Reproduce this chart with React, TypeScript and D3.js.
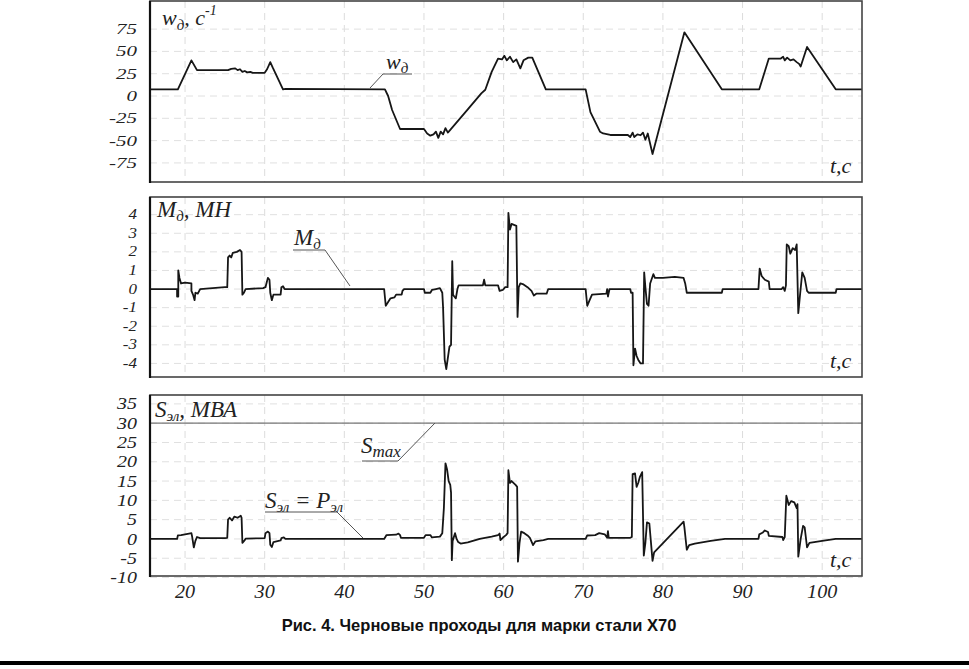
import React from 'react'
import * as d3 from 'd3'

// time axis
const xTicks = [20, 30, 40, 50, 60, 70, 80, 90, 100]
const tDomain: [number, number] = [15.6, 105]

// y ticks per panel
const wTicks = [75, 50, 25, 0, -25, -50, -75]
const mTicks = [4, 3, 2, 1, 0, -1, -2, -3, -4]
const sTicks = [35, 30, 25, 20, 15, 10, 5, 0, -5, -10]

// w_д, 1/s  (t, value)
const wSeries: [number, number][] = [
  [15.6, 7.5], [19.1, 7.5], [20.8, 40], [21.5, 29], [25.4, 29], [25.8, 30.5], [26.3, 31], [26.6, 29], [26.9, 30],
  [27.2, 27], [27.5, 28], [27.8, 26.5], [28.2, 27], [28.5, 26], [30.0, 26], [30.3, 30], [30.7, 38], [31.0, 32],
  [32.3, 7.5], [32.6, 8], [45.1, 7.5], [45.5, 0], [46.0, -15.7], [47.0, -37], [50.0, -37], [50.4, -42], [50.8, -44.5],
  [51.2, -43], [51.5, -40], [51.8, -47], [52.1, -40], [52.4, -43], [52.7, -36], [53.0, -41], [53.3, -38], [55.5, -15],
  [57.2, 3], [57.7, 7], [58.5, 27], [59.3, 42], [59.8, 41], [60.1, 45], [60.4, 40], [60.8, 44], [61.2, 38], [61.6, 41],
  [62.1, 31], [62.5, 40], [63.1, 43], [63.6, 43], [65.3, 7.5], [70.3, 7.5], [70.9, -18], [72.1, -40], [72.5, -42],
  [73.4, -43.7], [75.6, -43.7], [75.9, -46], [76.2, -41], [76.4, -46], [76.8, -43], [77.2, -44], [77.5, -41],
  [77.8, -49], [78.1, -42], [78.7, -65], [82.7, 71.4], [87.4, 7.5], [92.1, 7.5], [93.3, 42], [94.8, 42], [95.1, 44],
  [95.3, 40], [95.6, 43], [96.0, 40], [96.4, 41], [96.8, 38], [97.1, 36], [97.3, 33], [98.1, 55], [101.7, 7.5], [105, 7.5],
]

// M_д, MN
const mSeries: [number, number][] = [
  [15.6, 0], [19.0, 0], [19.0, -0.4], [19.15, -0.4], [19.15, 1.0], [19.3, 0.6], [19.5, 0.3], [20.0, 0.35], [20.8, 0.3],
  [20.8, -0.1], [21.0, -0.3], [21.2, -0.6], [21.3, -0.2], [21.6, -0.25], [21.9, 0], [25.0, 0.1], [25.3, 0.1],
  [25.4, 1.7], [25.6, 1.8], [25.8, 1.7], [26.0, 1.95], [26.5, 2.0], [26.9, 2.1], [27.1, 2.0], [27.2, -0.3], [27.4, -0.2],
  [27.6, 0], [29.8, 0.05], [30.1, 0.1], [30.4, 0.6], [30.6, 0.5], [30.7, -0.2], [30.9, -0.6], [31.1, -0.3], [32.0, -0.3],
  [32.1, 0.1], [32.3, 0.15], [32.5, 0], [45.0, 0], [45.2, -0.9], [45.5, -0.7], [45.8, -0.5], [46.3, -0.45], [46.5, -0.3],
  [47.2, -0.3], [47.3, -0.1], [47.5, 0], [50.0, 0], [50.1, -0.2], [50.8, -0.2], [51.0, -0.05], [51.5, 0], [52.0, 0.05],
  [52.3, -0.2], [52.4, -1.0], [52.6, -3.8], [52.8, -4.3], [53.0, -3.7], [53.2, -3.1], [53.4, -3.0], [53.55, 1.5],
  [53.65, -0.3], [53.8, -0.4], [54.0, -0.5], [54.2, 0], [54.35, 0.2], [57.4, 0.2], [57.55, 0.5], [57.7, 0.2], [59.3, 0.2],
  [59.5, -0.1], [59.9, -0.05], [60.2, 0.1], [60.5, 0.1], [60.6, 4.1], [60.8, 3.2], [61.0, 3.5], [61.6, 3.4], [61.75, -1.5],
  [61.9, 0.1], [62.1, 0.3], [62.5, 0.25], [63.0, 0.1], [63.5, -0.1], [63.8, -0.35], [64.1, -0.25], [65.4, -0.25],
  [65.6, 0], [70.3, 0], [70.5, -0.9], [70.8, -0.6], [71.1, -0.3], [72.9, -0.25], [73.0, 0], [73.1, -0.4], [73.3, 0],
  [75.9, 0], [76.0, -0.2], [76.2, -0.2], [76.3, -4.1], [76.5, -3.2], [76.7, -3.6], [76.9, -3.8], [77.2, -4.0],
  [77.5, -4.0], [77.65, 0.9], [77.8, 0.1], [78.0, -0.8], [78.2, -0.9], [78.4, 0.3], [78.8, 0.8], [79.0, 0.6],
  [80.0, 0.6], [81.5, 0.65], [82.6, 0.6], [82.8, 0.3], [83.0, -0.2], [87.4, -0.2], [87.5, 0], [92.0, 0], [92.15, 1.1],
  [92.4, 0.7], [92.8, 0.5], [93.3, 0.4], [93.4, 0], [94.9, 0], [95.1, 0.1], [95.3, -0.1], [95.45, 0.2], [95.55, 2.4],
  [95.8, 2.3], [96.0, 1.9], [96.3, 2.2], [96.6, 2.1], [96.8, 2.4], [97.0, -1.3], [97.2, -0.4], [97.5, 0.9], [97.8, 0.6],
  [98.1, -0.1], [98.3, -0.2], [101.7, -0.2], [101.8, 0], [105, 0],
]

// S_эл, MVA
const sSeries: [number, number][] = [
  [15.6, 0], [19.0, 0], [19.1, 0.9], [19.5, 1.0], [20.0, 1.2], [20.5, 1.4], [20.8, 1.5], [20.9, 0.5], [21.1, -2.2],
  [21.3, -0.5], [21.5, 0.5], [21.9, 0.2], [25.0, 0.2], [25.3, 0.3], [25.4, 5.0], [25.6, 5.5], [25.9, 4.8], [26.2, 5.8],
  [26.6, 5.5], [27.0, 6.0], [27.1, 5.5], [27.2, -1.0], [27.5, -0.3], [27.6, 0.1], [30.0, 0.2], [30.1, 1.5], [30.4, 1.9],
  [30.6, 1.5], [30.7, -1.5], [30.9, -2.1], [31.1, -0.8], [32.0, -0.4], [32.1, 0.2], [32.4, 0.4], [32.6, 0], [45.0, 0],
  [45.3, 1.0], [46.5, 1.1], [46.8, 1.4], [47.0, 1.0], [47.1, 0.3], [50.0, 0.3], [50.2, 1.0], [50.8, 1.0], [51.0, 0.4],
  [52.0, 0.6], [52.3, 1.5], [52.5, 8], [52.7, 19.6], [52.9, 18], [53.1, 15], [53.3, 14], [53.4, 12], [53.5, -5.5],
  [53.6, -0.5], [53.9, 1.5], [54.1, 0], [54.3, -0.8], [54.6, -1.2], [55.5, -0.9], [57.0, 0], [58.5, 0.6], [59.3, 1.0],
  [59.5, 1.4], [59.6, -0.3], [60.0, 0.5], [60.3, 1.0], [60.5, 1.5], [60.6, 17.8], [60.8, 14.5], [61.0, 15], [61.5, 14],
  [61.7, 13.5], [61.8, -5.9], [62.0, -1], [62.2, 1.9], [62.6, 1.5], [63.0, 0.9], [63.3, 0.3], [63.7, -1.6], [64.0, -0.6],
  [65.0, -0.3], [65.6, 0], [70.3, 0], [70.5, 0.9], [71.5, 1.0], [72.0, 1.5], [72.7, 1.2], [73.0, 0.3], [73.1, 2.0],
  [73.2, 0.3], [75.9, 0.3], [76.1, 0.5], [76.2, 16.8], [76.5, 17], [76.7, 13.5], [76.9, 14.5], [77.1, 16], [77.4, 17.3],
  [77.6, -4.3], [77.8, -1], [78.0, 4.3], [78.3, 4.0], [78.7, -5.7], [78.9, -3.5], [82.6, 4.5], [82.7, 3.0], [83.0, -2.8],
  [83.3, -1.6], [84.0, -1.2], [86.0, -0.5], [87.8, 0], [92.0, 0], [92.1, 1.2], [92.5, 1.6], [92.8, 2.2], [93.2, 1.8],
  [93.3, 0.8], [95.0, 0.5], [95.1, -0.3], [95.3, 0.5], [95.5, 11.2], [95.8, 8.8], [96.1, 9.8], [96.5, 9.5], [96.8, 8],
  [96.9, 9], [97.0, -4.6], [97.3, 0], [97.6, 3.4], [97.8, 3.0], [98.1, -2.2], [98.4, -1], [100.0, -0.5], [101.7, 0], [105, 0],
]

const sMax = 30
const caption = 'Рис. 4. Черновые проходы для марки стали Х70'

const W = 969, H = 669
const X0 = 150, X1 = 862
const serif = '"Liberation Serif", "DejaVu Serif", serif'

const x = d3.scaleLinear().domain(tDomain).range([X0, X1])

type PanelProps = {
  top: number
  bottom: number
  domain: [number, number]
  ticks: number[]
  series: [number, number][]
  fs: number
  sy: number
  children?: (y: d3.ScaleLinear<number, number>) => React.ReactNode
}

function Panel({ top, bottom, domain, ticks, series, fs, sy, children }: PanelProps) {
  const y = d3.scaleLinear().domain(domain).range([bottom, top])
  const line = d3.line<[number, number]>().x(d => x(d[0])).y(d => y(d[1]))
  return (
    <g>
      {xTicks.map(t => (
        <line key={'vx' + t} x1={x(t)} x2={x(t)} y1={top} y2={bottom} stroke="#dcdcdc" strokeDasharray="7,5" />
      ))}
      {ticks.map(v => (
        <line key={'hy' + v} x1={X0} x2={X1} y1={y(v)} y2={y(v)} stroke="#e0e0e0" strokeDasharray="7,5" />
      ))}
      {ticks.map(v => (
        <text key={'ty' + v} transform={`translate(137,${y(v) + fs * sy * 0.33}) scale(1,${sy})`}
          textAnchor="end" fontFamily={serif} fontStyle="italic" fontSize={fs} fill="#222">
          {v}
        </text>
      ))}
      {children && children(y)}
      <path d={line(series) || ''} fill="none" stroke="#161616" strokeWidth={1.8} strokeLinejoin="round" />
      <rect x={X0} y={top} width={X1 - X0} height={bottom - top} fill="none" stroke="#444" strokeWidth={1.6} />
      <line x1={X0} x2={X0} y1={top} y2={bottom + 1} stroke="#111" strokeWidth={2.2} />
      <text x={830} y={bottom - 9} fontFamily={serif} fontStyle="italic" fontSize={22} fill="#222">t,с</text>
    </g>
  )
}

export default function App() {
  return (
    <svg width={W} height={H} style={{ position: 'absolute', left: 0, top: 0, background: '#fff' }}>
      <rect width={W} height={H} fill="#fff" />

      {/* w_д panel */}
      <Panel top={1} bottom={182} domain={[-96.4, 106.5]} ticks={wTicks} series={wSeries} fs={21} sy={0.72} />
      <text x={162} y={25} fontFamily={serif} fontStyle="italic" fontSize={22} fill="#222">
        <tspan>w</tspan><tspan dy={5} fontSize={15}>д</tspan><tspan dy={-5}>, с</tspan>
        <tspan dy={-10} fontSize={14}>-1</tspan>
      </text>
      <text x={386} y={69} fontFamily={serif} fontStyle="italic" fontSize={22} fill="#222">
        <tspan>w</tspan><tspan dy={4} fontSize={15}>д</tspan>
      </text>
      <polyline points="370,88 383,74 412,74" fill="none" stroke="#555" strokeWidth={1} />

      {/* M_д panel */}
      <Panel top={197} bottom={377} domain={[-4.73, 4.95]} ticks={mTicks} series={mSeries} fs={17} sy={0.8} />
      <text x={157} y={217} fontFamily={serif} fontStyle="italic" fontSize={23} fill="#222">
        <tspan>M</tspan><tspan dy={4} fontSize={15}>д</tspan><tspan dy={-4}>, МН</tspan>
      </text>
      <text x={294} y={245} fontFamily={serif} fontStyle="italic" fontSize={23} fill="#222">
        <tspan>M</tspan><tspan dy={4} fontSize={15}>д</tspan>
      </text>
      <polyline points="293,250 325,250 350,286" fill="none" stroke="#555" strokeWidth={1} />

      {/* S_эл panel */}
      <Panel top={395} bottom={576} domain={[-9.6, 37.3]} ticks={sTicks} series={sSeries} fs={20} sy={0.85}>
        {y => (
          <line x1={X0} x2={X1} y1={y(sMax)} y2={y(sMax)} stroke="#777" strokeWidth={1.2} />
        )}
      </Panel>
      <text x={155} y={417} fontFamily={serif} fontStyle="italic" fontSize={23} fill="#222">
        <tspan>S</tspan><tspan dy={4} fontSize={15}>эл</tspan><tspan dy={-4}>, МВА</tspan>
      </text>
      <text x={361} y={453} fontFamily={serif} fontStyle="italic" fontSize={23} fill="#222">
        <tspan>S</tspan><tspan dy={4} fontSize={17}>max</tspan>
      </text>
      <polyline points="362,461 398,461 435,423" fill="none" stroke="#555" strokeWidth={1} />
      <text x={265} y={508} fontFamily={serif} fontStyle="italic" fontSize={23} fill="#222">
        <tspan>S</tspan><tspan dy={4} fontSize={15}>эл</tspan><tspan dy={-4}> = P</tspan>
        <tspan dy={4} fontSize={15}>эл</tspan>
      </text>
      <polyline points="265,512 337,512 363,538" fill="none" stroke="#555" strokeWidth={1} />

      {/* time tick labels */}
      {xTicks.map(t => (
        <text key={'tx' + t} transform={`translate(${x(t)},598) scale(1.12,1)`} textAnchor="middle"
          fontFamily={serif} fontStyle="italic" fontSize={18} fill="#222">
          {t}
        </text>
      ))}

      <text x={479} y={631} textAnchor="middle" fontFamily='"Liberation Sans", Arial, sans-serif'
        fontWeight="bold" fontSize={16.5} fill="#111">
        {caption}
      </text>
      <rect x={0} y={661} width={W} height={4} fill="#000" />
    </svg>
  )
}
